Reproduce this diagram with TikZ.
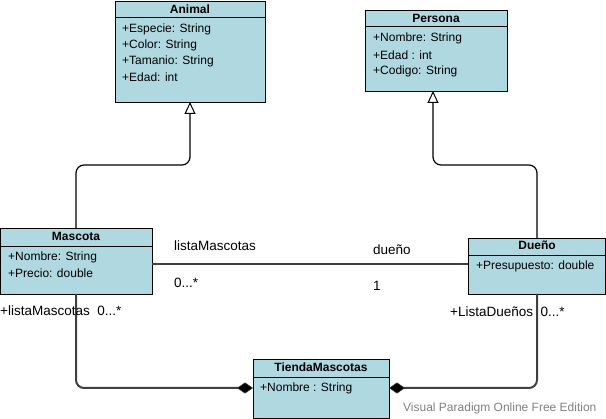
\documentclass[tikz,border=0pt]{standalone}
\usepackage{fontspec}
\setmainfont{Liberation Sans}
\usetikzlibrary{arrows.meta}
\definecolor{classfill}{RGB}{176,216,224}
\definecolor{linegray}{RGB}{64,64,64}
\tikzset{
  classbox/.style={draw=black, line width=1pt, fill=classfill, anchor=north west, inner sep=0pt},
  hdr/.style={font=\fontsize{12}{14}\selectfont\bfseries, inner sep=0pt},
  attr/.style={font=\fontsize{12}{14}\selectfont, anchor=west, inner sep=0pt},
  lbl/.style={font=\fontsize{13.5}{15}\selectfont, anchor=west, inner sep=0pt},
  gen/.style={draw=black, line width=1.2pt, rounded corners=8pt, -{Triangle[open, width=11pt, length=12pt, line width=1pt]}},
  assoc/.style={draw=linegray, line width=2pt},
  comp/.style={draw=linegray, line width=2pt, rounded corners=8pt, -{Diamond[fill=black, width=11pt, length=16pt, line width=0.5pt]}},
}
\begin{document}
\begin{tikzpicture}[x=1pt, y=-1pt]
\useasboundingbox (0,0) rectangle (606,419);
% Animal
\node[classbox, minimum width=150pt, minimum height=101pt] (animal) at (115,1) {};
\draw (115,17) -- (265,17);
\node[hdr] (animalh) at (190,9) {Animal};
\node[attr] (a1) at (122,29) {+Especie: String};
\node[attr] (a2) at (122,45) {+Color: String};
\node[attr] (a3) at (122,61) {+Tamanio: String};
\node[attr] (a4) at (122,77) {+Edad: int};
% Persona
\node[classbox, minimum width=142pt, minimum height=81pt] (persona) at (365,10) {};
\draw (365,26) -- (507,26);
\node[hdr] (personah) at (436,18) {Persona};
\node[attr] (p1) at (373,38) {+Nombre: String};
\node[attr] (p2) at (373,55) {+Edad : int};
\node[attr] (p3) at (373,71) {+Codigo: String};
% Mascota
\node[classbox, minimum width=152pt, minimum height=66pt] (mascota) at (0,228) {};
\draw (0,246) -- (152,246);
\node[hdr] (mascotah) at (76,236) {Mascota};
\node[attr] (m1) at (8,257) {+Nombre: String};
\node[attr] (m2) at (8,273) {+Precio: double};
% Dueño
\node[classbox, minimum width=137pt, minimum height=56pt] (dueno) at (468,238) {};
\draw (468,255) -- (605,255);
\node[hdr] (duenoh) at (537,245) {Dueño};
\node[attr] (d1) at (476,266) {+Presupuesto: double};
% TiendaMascotas
\node[classbox, minimum width=136pt, minimum height=59pt] (tienda) at (253,359) {};
\draw (253,377) -- (389,377);
\node[hdr] (tiendah) at (321,367) {TiendaMascotas};
\node[attr] (t1) at (260,388) {+Nombre : String};
% coordinates
\coordinate (mtop) at (76,228);
\coordinate (abot) at (190,102);
\coordinate (dtop) at (537,238);
\coordinate (pbot) at (433,91);
\coordinate (mbot) at (76,294);
\coordinate (dbot) at (537,294);
\coordinate (tl) at (253,388);
\coordinate (tr) at (389,388);
\coordinate (mr) at (152,264);
\coordinate (dl) at (468,264);
% generalizations
\draw[gen] (mtop) -- (76,165) -- (190,165) -- (abot);
\draw[gen] (dtop) -- (537,165) -- (433,165) -- (pbot);
% association
\draw[assoc] (mr) -- (dl);
% compositions
\draw[comp] (mbot) -- (76,388) -- (tl);
\draw[comp] (dbot) -- (537,388) -- (tr);
% labels
\node[lbl] (l1) at (174,246) {listaMascotas};
\node[lbl] (l2) at (373,250) {dueño};
\node[lbl] (l3) at (174,283) {0...*};
\node[lbl] (l4) at (373,286) {1};
\node[lbl] (l5) at (0,311) {+listaMascotas\ \ 0...*};
\node[lbl] (l6) at (450,312) {+ListaDueños\ \ 0...*};
\node[attr, text=gray] (wm) at (403,408) {Visual Paradigm Online Free Edition};
\end{tikzpicture}
\end{document}
